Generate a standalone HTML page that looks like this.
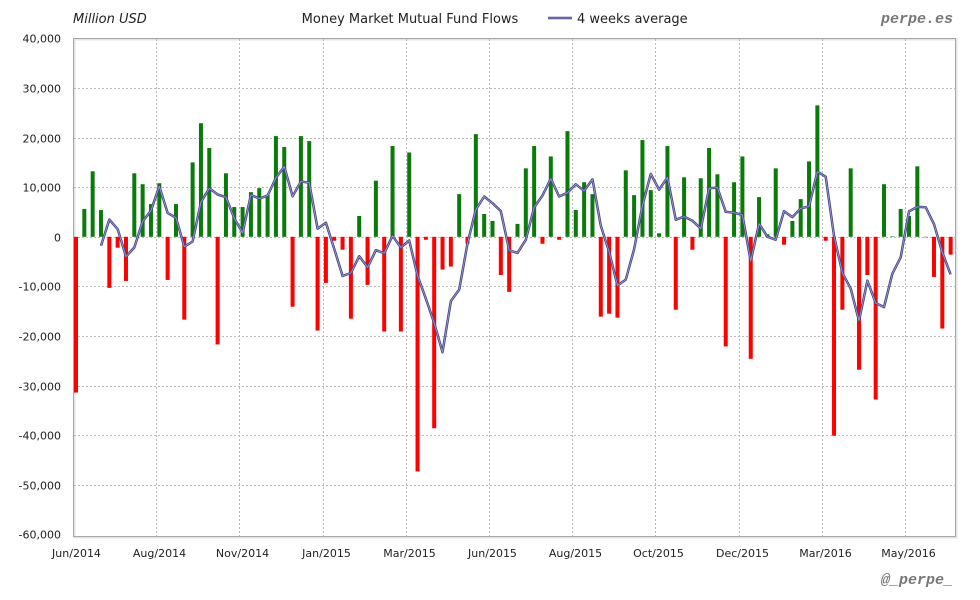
<!DOCTYPE html>
<html><head><meta charset="utf-8"><style>
html,body{margin:0;padding:0;background:#fff;}
svg{display:block;font-family:"DejaVu Sans","Liberation Sans",sans-serif;}
</style></head><body>
<svg id="c" width="980" height="600" viewBox="0 0 980 600" xmlns="http://www.w3.org/2000/svg">
<rect x="0" y="0" width="980" height="600" fill="#fff"/>
<rect x="74.5" y="39.5" width="882" height="498" fill="none" stroke="#e4e4e4" stroke-width="2"/>
<g id="grid"></g>
<rect x="73.5" y="38.5" width="882" height="498" fill="none" stroke="#a8a8a8" stroke-width="1"/>
<g id="bars"></g>
<g id="lab" font-size="11" fill="#222"></g>
<text x="73" y="23" font-size="13" font-style="italic" fill="#222">Million USD</text>
<text x="410" y="23" font-size="13" fill="#222" text-anchor="middle">Money Market Mutual Fund Flows</text>
<line x1="548" y1="18" x2="572" y2="18" stroke="#44448a" stroke-width="2.5"/>
<line x1="548" y1="18" x2="572" y2="18" stroke="#a0a0cc" stroke-width="0.8"/>
<text x="577" y="23" font-size="13" fill="#222">4 weeks average</text>
<text x="953" y="23" font-size="15" font-weight="bold" font-style="italic" fill="#777" text-anchor="end" font-family="Liberation Mono, monospace">perpe.es</text>
<text x="953" y="584" font-size="15" font-weight="bold" font-style="italic" fill="#777" text-anchor="end" font-family="Liberation Mono, monospace">@_perpe_</text>
</svg>
<script>
var v=[-31.4,5.6,13.2,5.4,-10.3,-2.2,-8.9,12.8,10.6,6.6,10.8,-8.7,6.6,-16.7,15.0,22.9,17.9,-21.7,12.8,6.0,6.0,9.0,9.8,8.4,20.3,18.1,-14.1,20.3,19.3,-18.9,-9.3,-0.8,-2.6,-16.5,4.2,-9.7,11.3,-19.1,18.3,-19.1,17.0,-47.3,-0.6,-38.6,-6.6,-6.0,8.6,-1.4,20.7,4.6,3.2,-7.7,-11.1,2.6,13.8,18.3,-1.4,16.2,-0.6,21.3,5.4,11.0,8.6,-16.1,-15.5,-16.3,13.4,8.4,19.5,9.4,0.7,18.3,-14.7,12.0,-2.6,11.8,17.9,12.6,-22.1,11.0,16.2,-24.6,8.0,0.5,13.8,-1.6,3.2,7.6,15.2,26.5,-0.8,-40.1,-14.7,13.8,-26.8,-7.7,-32.8,10.6,0.1,5.6,4.2,14.2,-0.1,-8.1,-18.5,-3.6];
var NS="http://www.w3.org/2000/svg";
function el(t,a,p){var e=document.createElementNS(NS,t);for(var k in a)e.setAttribute(k,a[k]);p.appendChild(e);return e;}
var g=document.getElementById('grid'),b=document.getElementById('bars'),l=document.getElementById('lab');
var z=236.8,s=4.96;
function Y(val){return z-val*s;}
for(var i=0;i<=10;i++){var y=Math.round(Y(40-10*i))+0.5;
 if(i>0&&i<10)el('line',{x1:74,x2:955,y1:y,y2:y,stroke:'#bbb','stroke-dasharray':'2,2'},g);
 var t=el('text',{x:61,y:y+4,'text-anchor':'end'},l);var n=40-10*i;t.textContent=(n===0?'0':(n*1000).toLocaleString('en-US'));}
var mx=['Jun/2014','Aug/2014','Nov/2014','Jan/2015','Mar/2015','Jun/2015','Aug/2015','Oct/2015','Dec/2015','Mar/2016','May/2016'];
for(var i=0;i<11;i++){var x=Math.round(73+83.2*i)+0.5;
 if(i>0)el('line',{x1:x,x2:x,y1:39,y2:536,stroke:'#bbb','stroke-dasharray':'2,2'},g);
 var t=el('text',{x:x+3,y:557,'text-anchor':'middle'},l);t.textContent=mx[i];}
for(var i=0;i<v.length;i++){var x=76+8.33*i,y0=Y(0),y1=Y(v[i]);
 el('rect',{x:x-2,y:Math.min(y0,y1),width:4,height:Math.abs(y1-y0),fill:v[i]>=0?'#0a7a0a':'#f00'},b);}
var p='';for(var i=3;i<v.length;i++){var a=(v[i]+v[i-1]+v[i-2]+v[i-3])/4;p+=(i==3?'M':'L')+(76+8.33*i).toFixed(1)+','+Y(a).toFixed(1);}
el('path',{d:p,fill:'none',stroke:'#44448a','stroke-width':2.5,'stroke-linejoin':'round'},b);
el('path',{d:p,fill:'none',stroke:'#a0a0cc','stroke-width':0.8,'stroke-linejoin':'round'},b);
</script>
</body></html>
